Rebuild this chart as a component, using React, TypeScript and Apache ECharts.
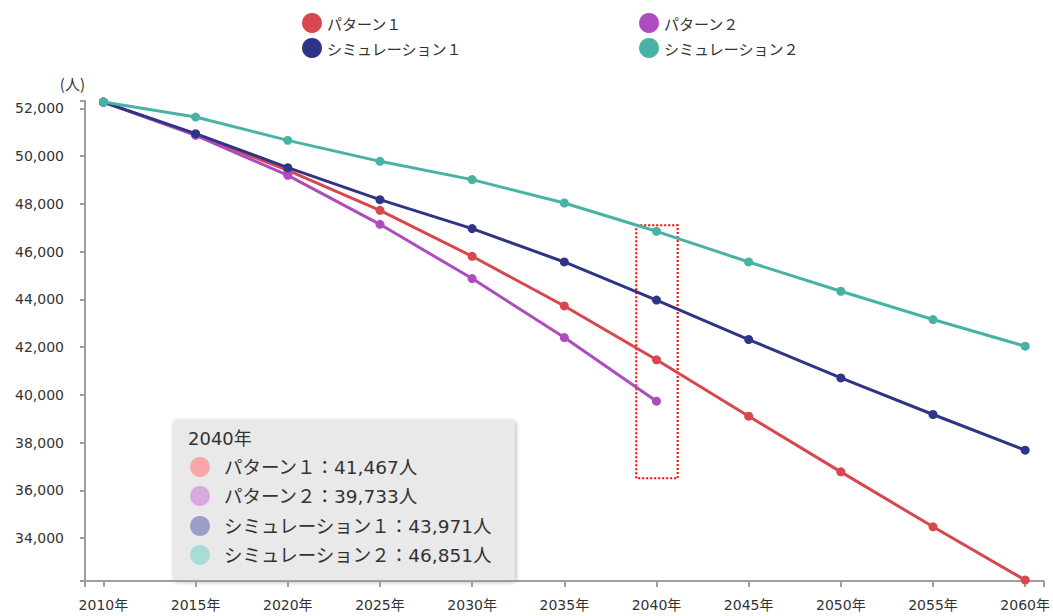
import React, { useEffect, useRef } from "react";
import * as echarts from "echarts";

const years = [2010, 2015, 2020, 2025, 2030, 2035, 2040, 2045, 2050, 2055, 2060];
const seriesNames = ["パターン１", "パターン２", "シミュレーション１", "シミュレーション２"];
const pattern1 = [52265, 50900, 49405, 47730, 45804, 43723, 41467, 39105, 36773, 34470, 32238];
const pattern2 = [52265, 50870, 49196, 47144, 44871, 42400, 39733];
const simulation1 = [52265, 50942, 49518, 48178, 46964, 45566, 43971, 42317, 40709, 39176, 37681];
const simulation2 = [52265, 51637, 50661, 49782, 49016, 48036, 46851, 45566, 44339, 43154, 42036];
const colors = ["#d9474e", "#ae4cbf", "#2e3586", "#46b3a4"];
const paleColors = ["#f7a7a7", "#d9a9e0", "#9c9ec8", "#a7ddd4"];
const yLabelValues = [34000, 36000, 38000, 40000, 42000, 44000, 46000, 48000, 50000, 52000];
const yMin = 32200;
const yMax = 52310;
const xMin = 2009;
const xMax = 2061;
const highlightYear = 2040;
const highlightBox = { x0: 2038.9, x1: 2041.15, y0: 36500, y1: 47100 };

const FONT = '"DejaVu Sans", "Noto Sans CJK JP", sans-serif';
const CJK = '"Noto Sans CJK JP", sans-serif';

export default function App() {
  const ref = useRef<HTMLDivElement>(null);

  useEffect(() => {
    if (!ref.current) return;
    const chart = echarts.init(ref.current, null, { renderer: "svg" });
    const allData = [pattern1, pattern2, simulation1, simulation2];
    const hi = years.indexOf(highlightYear);

    const tooltipRows: any[] = [];
    const rowY = [467, 496, 526, 555];
    seriesNames.forEach((n, i) => {
      tooltipRows.push({
        type: "circle",
        shape: { cx: 200, cy: rowY[i], r: 10 },
        style: { fill: paleColors[i] },
      });
      tooltipRows.push({
        type: "text",
        x: 224,
        y: rowY[i],
        style: {
          text: `${n}：${allData[i][hi].toLocaleString("en-US")}人`,
          fill: "#333",
          font: `18.5px ${FONT}`,
          verticalAlign: "middle",
        },
      });
    });

    const legendCommon = {
      orient: "vertical",
      top: 8,
      itemWidth: 20,
      itemHeight: 20,
      itemGap: 5,
      icon: "circle",
      textStyle: { fontSize: 15, color: "#333", fontFamily: CJK },
    };

    chart.setOption({
      animation: false,
      textStyle: { fontFamily: FONT },
      color: colors,
      legend: [
        { ...legendCommon, data: [seriesNames[0], seriesNames[2]], left: 297 },
        { ...legendCommon, data: [seriesNames[1], seriesNames[3]], left: 634 },
      ],
      grid: { left: 85, right: 8, top: 101, bottom: 35, containLabel: false },
      xAxis: {
        type: "value",
        min: xMin,
        max: xMax,
        splitLine: { show: false },
        axisLine: { show: true, lineStyle: { color: "#9e9e9e", width: 2 } },
        axisTick: {
          show: true,
          length: 6,
          lineStyle: { color: "#9e9e9e", width: 2 },
          customValues: [xMin, ...years, xMax],
        },
        axisLabel: {
          customValues: years,
          formatter: (v: number) => `${v}年`,
          fontSize: 14,
          color: "#333",
          margin: 17,
          fontFamily: FONT,
        },
      },
      yAxis: {
        type: "value",
        min: yMin,
        max: yMax,
        name: "(人)",
        nameLocation: "end",
        nameGap: 10,
        nameTextStyle: { fontSize: 15, color: "#333", align: "right", verticalAlign: "bottom", fontFamily: CJK },
        splitLine: { show: false },
        axisLine: { show: true, lineStyle: { color: "#9e9e9e", width: 2 } },
        axisTick: {
          show: true,
          length: 5,
          lineStyle: { color: "#9e9e9e", width: 2 },
          customValues: [yMin, ...yLabelValues, yMax],
        },
        axisLabel: {
          customValues: yLabelValues,
          formatter: (v: number) => v.toLocaleString("en-US"),
          fontSize: 14,
          color: "#333",
          margin: 21,
          fontFamily: FONT,
        },
      },
      series: allData.map((d, i) => ({
        name: seriesNames[i],
        type: "line",
        data: d.map((v, k) => [years[k], v]),
        symbol: "circle",
        symbolSize: 9,
        lineStyle: { width: 3, color: colors[i] },
        itemStyle: { color: colors[i] },
        z: 2 + i,
        ...(i === 0
          ? {
              markArea: {
                silent: true,
                itemStyle: {
                  color: "transparent",
                  borderColor: "#ff0000",
                  borderWidth: 2,
                  borderType: [2, 2],
                },
                data: [
                  [
                    { coord: [highlightBox.x0, highlightBox.y1] },
                    { coord: [highlightBox.x1, highlightBox.y0] },
                  ],
                ],
              },
            }
          : {}),
      })),
      graphic: [
        {
          type: "group",
          z: 100,
          children: [
            {
              type: "rect",
              shape: { x: 173, y: 420, width: 342, height: 161, r: 4 },
              style: {
                fill: "#e9e9e9",
                shadowBlur: 4,
                shadowOffsetX: 1,
                shadowOffsetY: 1,
                shadowColor: "rgba(0,0,0,0.3)",
              },
            },
            {
              type: "text",
              x: 188,
              y: 438,
              style: {
                text: `${highlightYear}年`,
                fill: "#333",
                font: `18px ${FONT}`,
                verticalAlign: "middle",
              },
            },
            ...tooltipRows,
          ],
        },
      ],
    });
    return () => chart.dispose();
  }, []);

  return <div ref={ref} style={{ width: 1053, height: 616, position: "absolute", left: 0, top: 0 }} />;
}
